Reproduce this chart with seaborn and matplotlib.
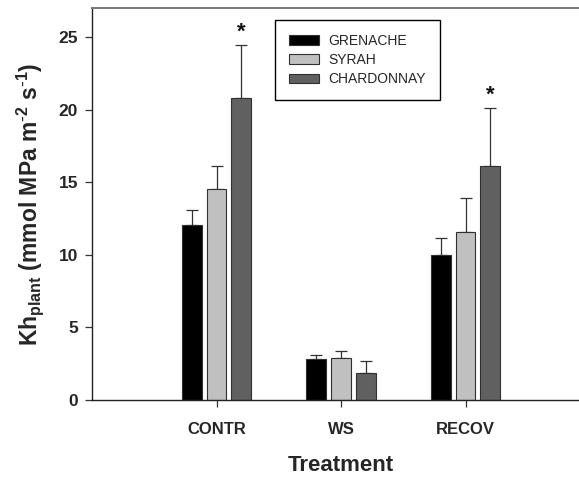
import numpy as np
import pandas as pd
import matplotlib
matplotlib.use("Agg")
import matplotlib.pyplot as plt
import seaborn as sns

# Whole-plant hydraulic conductance per treatment and cultivar
treatments = ["CONTR", "WS", "RECOV"]
cultivars = ["GRENACHE", "SYRAH", "CHARDONNAY"]
grenache_mean = [12.03, 2.80, 10.02]
syrah_mean = [14.56, 2.91, 11.58]
chardonnay_mean = [20.79, 1.88, 16.11]
grenache_se = [1.04, 0.27, 1.17]
syrah_se = [1.55, 0.44, 2.31]
chardonnay_se = [3.67, 0.80, 3.99]
significant = [(0, "CHARDONNAY"), (2, "CHARDONNAY")]
bar_colors = ["#000000", "#c0c0c0", "#606060"]
y_ticks = [0, 5, 10, 15, 20, 25]

means = {"GRENACHE": grenache_mean, "SYRAH": syrah_mean, "CHARDONNAY": chardonnay_mean}
errs = {"GRENACHE": grenache_se, "SYRAH": syrah_se, "CHARDONNAY": chardonnay_se}

df = pd.DataFrame(
    [(t, c, means[c][i], errs[c][i]) for c in cultivars for i, t in enumerate(treatments)],
    columns=["Treatment", "Cultivar", "Kh", "SE"],
)

sns.set_theme(style="ticks")
plt.rcParams["font.family"] = ["Liberation Sans", "DejaVu Sans"]
plt.rcParams["mathtext.default"] = "regular"

fig = plt.figure(figsize=(5.79, 4.78), dpi=100)
ax = fig.add_axes([92 / 579, 78 / 478, 498 / 579, 392 / 478])

sns.barplot(
    data=df, x="Treatment", y="Kh", hue="Cultivar",
    order=treatments, hue_order=cultivars, palette=bar_colors,
    width=0.6, gap=0.2, errorbar=None, edgecolor="#303030", linewidth=0.8,
    ax=ax, zorder=2,
)

# Upper-only error bars placed on each drawn bar
for c, container in zip(cultivars, ax.containers):
    xs = [p.get_x() + p.get_width() / 2 for p in container]
    ys = [p.get_height() for p in container]
    se = errs[c]
    ax.errorbar(xs, ys, yerr=[np.zeros(len(se)), se], fmt="none",
                ecolor="#333333", elinewidth=0.9, capsize=4.5, capthick=0.9, zorder=1)
    for i, p in enumerate(container):
        if (i, c) in significant:
            ax.text(xs[i], ys[i] + se[i] + 0.15, "*", ha="center", va="bottom",
                    fontsize=16, fontweight="bold", color="#111111")

ax.set_xlim(-1, 3)
ax.set_ylim(0, 27)
ax.set_yticks(y_ticks)

for side in ["left", "bottom"]:
    ax.spines[side].set_color("#222222")
    ax.spines[side].set_linewidth(1.0)
ax.spines["top"].set_color("#777777")
ax.spines["top"].set_linewidth(1.4)
ax.spines["right"].set_visible(False)

ax.tick_params(axis="both", direction="out", length=5, width=0.9, color="#333333",
               labelsize=12.5)
ax.tick_params(axis="x", pad=11, labelsize=12)
ax.tick_params(axis="y", pad=5)
for lab in ax.get_xticklabels() + ax.get_yticklabels():
    lab.set_fontweight("bold")

ax.set_xlabel("Treatment", fontsize=16, fontweight="bold", labelpad=13)
ax.set_ylabel(r"Kh$_{plant}$ (mmol MPa m$^{\text{-}2}$ s$^{\text{-}1}$)", fontsize=16.5,
              fontweight="bold", labelpad=9)

leg = ax.legend(
    loc="upper left", bbox_to_anchor=(275 / 579, 1 - 20 / 478),
    bbox_transform=fig.transFigure, borderaxespad=0, fontsize=10,
    frameon=True, fancybox=False, edgecolor="#000000", framealpha=1,
    handlelength=2.2, handleheight=0.7, handletextpad=0.65,
    labelspacing=0.38, borderpad=1.0, title=None,
)
leg.get_frame().set_linewidth(1.0)

fig.savefig("out.png", dpi=100)
